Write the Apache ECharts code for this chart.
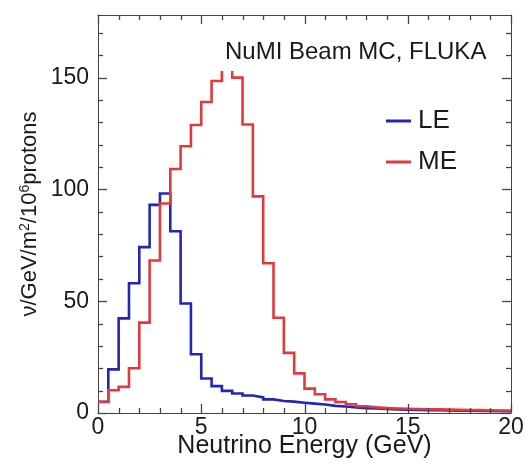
<!DOCTYPE html>
<html>
<head>
<meta charset="utf-8">
<script src="https://cdn.jsdelivr.net/npm/echarts@6/dist/echarts.min.js"></script>
<style>html,body{margin:0;padding:0;background:#fff;}#c{width:525px;height:464px;}</style>
</head>
<body>
<div id="c"></div>
<script>
// Histogram binning (GeV)
const binStart = 0;
const binWidth = 0.5;
// Flux per bin
const leFlux = [5, 19.5, 42.3, 58, 74.2, 93.1, 98.2, 81.3, 49, 26.3,
  15.4, 12.0, 9.9, 8.7, 7.8, 7.0, 6.1, 5.4, 5.1, 4.6,
  4.2, 3.8, 3.2, 2.9, 2.5, 2.2, 2.0, 1.8, 1.6, 1.5,
  1.4, 1.3, 1.2, 1.1, 1.05, 1.0, 0.95, 0.9, 0.85, 0.8];
const meFlux = [4.9, 10.2, 11.7, 20.0, 40.4, 68.2, 93.7, 109.1, 119.3, 128.8,
  139.1, 148.5, 165, 150, 129, 96.9, 67, 42.6, 26.9, 17.7,
  10.9, 8.4, 6.1, 4.9, 3.9, 3.0, 2.5, 2.2, 2.0, 1.9,
  1.8, 1.7, 1.6, 1.5, 1.4, 1.35, 1.3, 1.2, 1.15, 1.1];
const histClip = 153;   // drawing maximum of the histograms
const xTicks = [0, 5, 10, 15, 20];
const yTicks = [0, 50, 100, 150];
const xMinorStep = 1, yMinorStep = 10;
const xMin = 0, xMax = 20, yMin = 0, yMax = 178;
const seriesNames = ['LE', 'ME'];
const titleText = 'NuMI Beam MC, FLUKA';

function stepData(vals) {
  const pts = [];
  for (let i = 0; i < vals.length; i++) {
    const lo = binStart + i * binWidth, hi = lo + binWidth;
    const v = vals[i];
    if (v <= histClip) {
      pts.push([lo, v], [hi, v]);
    } else {
      pts.push([lo, histClip], [lo, '-'], [hi, histClip]);
    }
  }
  return pts;
}

// tick marks (major flag 1 / minor 0)
const xTickData = [], yTickData = [];
for (let v = xMin; v <= xMax + 1e-9; v += xMinorStep) xTickData.push([v, xTicks.indexOf(v) >= 0 ? 1 : 0]);
for (let v = yMin; v <= yMax + 1e-9; v += yMinorStep) yTickData.push([v, yTicks.indexOf(v) >= 0 ? 1 : 0]);

const FONT = "'Liberation Sans', Arial, Helvetica, sans-serif";
const TXT = '#1a1a1a';
const AX = '#444444';
const MAJ = 9, MIN = 5;

const chart = echarts.init(document.getElementById('c'), null, {renderer: 'canvas'});

const option = {
  animation: false,
  backgroundColor: '#ffffff',
  grid: {left: 98, right: 14, top: 15, bottom: 51, containLabel: false, outerBoundsMode: 'none'},
  title: {text: titleText, left: 220, top: 35,
    textStyle: {fontSize: 24, fontWeight: 'normal', fontFamily: FONT, color: TXT}},
  legend: {
    orient: 'vertical', left: 381, top: 103, itemWidth: 25, itemHeight: 3, itemGap: 15,
    icon: 'rect', data: seriesNames,
    textStyle: {fontSize: 26, fontFamily: FONT, color: TXT, padding: [0, 0, 0, 2]}
  },
  xAxis: [
    {type: 'value', position: 'bottom', min: xMin, max: xMax, interval: xTicks[1] - xTicks[0],
      axisLine: {show: true, onZero: false, lineStyle: {color: AX, width: 1}},
      axisTick: {show: false}, splitLine: {show: false},
      axisLabel: {show: true, margin: 3, fontSize: 23, fontFamily: FONT, color: TXT,
        formatter: v => xTicks.indexOf(v) >= 0 ? String(v) : ''},
      name: 'Neutrino Energy (GeV)', nameLocation: 'middle', nameGap: 21, nameMoveOverlap: false,
      nameTextStyle: {fontSize: 25, fontFamily: FONT, color: TXT}},
    {type: 'value', position: 'top', min: xMin, max: xMax,
      axisLine: {show: true, onZero: false, lineStyle: {color: AX, width: 1}},
      axisTick: {show: false}, splitLine: {show: false}, axisLabel: {show: false}}
  ],
  yAxis: [
    {type: 'value', position: 'left', min: yMin, max: yMax, interval: 50,
      axisLine: {show: true, onZero: false, lineStyle: {color: AX, width: 1}},
      axisTick: {show: false}, splitLine: {show: false},
      axisLabel: {show: true, margin: 9, fontSize: 23, fontFamily: FONT, color: TXT,
        formatter: v => yTicks.indexOf(v) >= 0 ? String(v) : ''},
      name: '{n|ν/GeV/m}{s|2}{n|/10}{s|6}{n|protons}',
      nameLocation: 'middle', nameGap: 56, nameRotate: 90, nameMoveOverlap: false,
      nameTextStyle: {fontSize: 22, fontFamily: FONT, color: TXT,
        rich: {n: {fontSize: 22, fontFamily: FONT, color: TXT},
               s: {fontSize: 14, fontFamily: FONT, color: TXT, verticalAlign: 'top', padding: [0, 0, 10, 0]}}}},
    {type: 'value', position: 'right', min: yMin, max: yMax,
      axisLine: {show: true, onZero: false, lineStyle: {color: AX, width: 1}},
      axisTick: {show: false}, splitLine: {show: false}, axisLabel: {show: false}}
  ],
  series: [
    {name: seriesNames[0], type: 'line', data: stepData(leFlux), xAxisIndex: 0, yAxisIndex: 0,
      showSymbol: false, symbol: 'none', connectNulls: false, color: '#2424b8', z: 3,
      lineStyle: {width: 2.6, color: '#2424b8', join: 'miter'}},
    {name: seriesNames[1], type: 'line', data: stepData(meFlux), xAxisIndex: 0, yAxisIndex: 0,
      showSymbol: false, symbol: 'none', connectNulls: false, color: '#e2393c', z: 4,
      lineStyle: {width: 2.6, color: '#e2393c', join: 'miter'}},
    {type: 'custom', xAxisIndex: 0, yAxisIndex: 0, data: xTickData, silent: true, z: 5,
      clip: false, encode: {x: 0},
      renderItem: function (params, api) {
        const cs = params.coordSys;
        const x = Math.round(api.coord([api.value(0), yMin])[0]) + 0.5;
        const len = api.value(1) ? MAJ : MIN;
        const st = {stroke: AX, lineWidth: 1.3};
        return {type: 'group', children: [
          {type: 'line', shape: {x1: x, y1: cs.y + cs.height, x2: x, y2: cs.y + cs.height - len}, style: st},
          {type: 'line', shape: {x1: x, y1: cs.y, x2: x, y2: cs.y + len}, style: st}
        ]};
      }},
    {type: 'custom', xAxisIndex: 0, yAxisIndex: 0, data: yTickData, silent: true, z: 5,
      clip: false, encode: {y: 0},
      renderItem: function (params, api) {
        const cs = params.coordSys;
        const y = Math.round(api.coord([xMin, api.value(0)])[1]) + 0.5;
        const len = api.value(1) ? MAJ : MIN;
        const st = {stroke: AX, lineWidth: 1.3};
        return {type: 'group', children: [
          {type: 'line', shape: {x1: cs.x, y1: y, x2: cs.x + len, y2: y}, style: st},
          {type: 'line', shape: {x1: cs.x + cs.width, y1: y, x2: cs.x + cs.width - len, y2: y}, style: st}
        ]};
      }}
  ]
};
chart.setOption(option);
</script>
</body>
</html>
